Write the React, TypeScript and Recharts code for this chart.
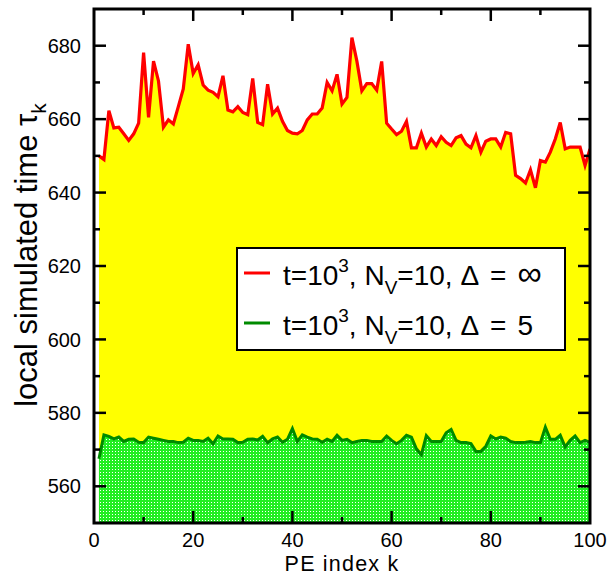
import React from 'react';
import { ComposedChart, Area, XAxis, YAxis, Legend, Label, ReferenceArea } from 'recharts';

// PE index k = 1..100
const peIndex: number[] = Array.from({ length: 100 }, (_, i) => i + 1);

// t=10^3, N_V=10, Delta=infinity  (red)
const tauInf: number[] = [
  650.0, 649.0, 662.3, 657.6, 657.8, 656.0, 654.2, 656.0, 658.9, 678.1,
  660.5, 675.8, 670.4, 657.8, 659.8, 658.7, 663.4, 668.2, 680.4, 672.4,
  674.8, 669.3, 667.9, 667.3, 666.1, 671.8, 662.5, 662.0, 663.4, 661.8,
  661.2, 671.1, 659.1, 658.5, 669.5, 661.4, 663.0, 659.4, 656.9, 656.2,
  656.0, 656.9, 659.8, 661.4, 661.4, 663.0, 670.0, 667.7, 672.2, 664.1,
  665.9, 682.2, 675.8, 667.7, 669.7, 669.7, 667.9, 675.7, 658.9, 657.3,
  655.8, 656.7, 659.4, 652.2, 652.2, 656.2, 652.4, 654.6, 652.8, 655.2,
  653.7, 652.8, 654.9, 655.5, 653.2, 652.2, 655.5, 651.0, 654.0, 654.6,
  654.6, 652.4, 656.4, 656.0, 644.7, 643.8, 642.6, 646.2, 641.3, 648.7,
  648.3, 651.0, 654.6, 659.1, 651.9, 652.4, 652.4, 652.4, 647.4, 651.9,
];

// t=10^3, N_V=10, Delta=5  (green)
const tauDelta5: number[] = [
  567.5, 574.0, 573.6, 572.9, 573.4, 572.2, 572.8, 572.9, 572.0, 571.9,
  573.4, 573.1, 572.8, 572.5, 572.2, 572.2, 571.9, 572.0, 573.1, 572.5,
  572.5, 572.2, 573.1, 571.6, 573.7, 572.9, 572.9, 572.8, 571.9, 572.0,
  572.8, 572.9, 572.6, 573.6, 571.9, 572.9, 573.4, 572.0, 572.8, 575.7,
  572.2, 574.0, 573.4, 572.9, 572.8, 572.0, 572.8, 572.2, 573.9, 572.5,
  572.8, 571.9, 572.2, 572.5, 572.5, 572.2, 572.2, 572.2, 573.7, 572.5,
  571.6, 572.5, 573.9, 573.4, 570.2, 568.6, 573.8, 572.2, 572.2, 572.2,
  574.6, 575.5, 572.5, 571.9, 571.9, 571.6, 569.5, 569.5, 570.9, 573.7,
  572.9, 573.4, 573.1, 572.2, 571.9, 571.9, 572.0, 572.2, 571.9, 571.9,
  576.1, 572.8, 572.8, 573.9, 570.7, 572.5, 573.7, 571.9, 572.5, 572.0,
];

const xTicks: number[] = [0, 10, 20, 30, 40, 50, 60, 70, 80, 90, 100];
const xMajor: number[] = [0, 20, 40, 60, 80, 100];
const yTicks: number[] = [560, 570, 580, 590, 600, 610, 620, 630, 640, 650, 660, 670, 680];
const yMajor: number[] = [560, 580, 600, 620, 640, 660, 680];
const xDomain: [number, number] = [0, 100];
const yDomain: [number, number] = [550, 690];

const legendRows = [
  { delta: '\u221E', color: '#ff0000', big: true },
  { delta: '5', color: '#008a00', big: false },
];

const data = peIndex.map((k, i) => ({ k, inf: tauInf[i], d5: tauDelta5[i] }));

const FONT = '"Liberation Sans", Arial, Helvetica, sans-serif';
const W = 614;
const H = 575;
const MARGIN = { top: 9, right: 24, bottom: 51, left: 93 };
const PLOT_TOP = MARGIN.top;
const PLOT_RIGHT = W - MARGIN.right;
const MAJOR = 12;
const MINOR = 6;
const TW = 2.5;
const FRAME = 3;
const X_TICK_MARGIN = 10;
const Y_TICK_MARGIN = 13;

const BottomTick = (props: any) => {
  const { x, y, payload } = props;
  const v = payload.value;
  const major = xMajor.includes(v);
  const ay = y - X_TICK_MARGIN;
  const len = major ? MAJOR : MINOR;
  const inner = v > xDomain[0] && v < xDomain[1];
  return (
    <g>
      {inner && <line x1={x} x2={x} y1={ay} y2={ay - len} stroke="#000" strokeWidth={TW} />}
      {inner && <line x1={x} x2={x} y1={PLOT_TOP} y2={PLOT_TOP + len} stroke="#000" strokeWidth={TW} />}
      {major && (
        <text x={x} y={y} dy={13.5} textAnchor="middle" fontSize={20} fontFamily={FONT} fill="#000">
          {v}
        </text>
      )}
    </g>
  );
};

const LeftTick = (props: any) => {
  const { x, y, payload } = props;
  const v = payload.value;
  const major = yMajor.includes(v);
  const ax = x + Y_TICK_MARGIN;
  const len = major ? MAJOR : MINOR;
  return (
    <g>
      <line x1={ax} x2={ax + len} y1={y} y2={y} stroke="#000" strokeWidth={TW} />
      <line x1={PLOT_RIGHT} x2={PLOT_RIGHT - len} y1={y} y2={y} stroke="#000" strokeWidth={TW} />
      {major && (
        <text x={x} y={y} dy="0.36em" textAnchor="end" fontSize={20} fontFamily={FONT} fill="#000">
          {v}
        </text>
      )}
    </g>
  );
};

const YTitle = (props: any) => {
  const vb = props.viewBox || { x: 93, y: 9, width: 1, height: 514 };
  const cx = vb.x + vb.width - 57;
  const cy = vb.y + vb.height / 2 - 11;
  return (
    <text
      x={cx}
      y={cy}
      transform={`rotate(-90 ${cx} ${cy})`}
      textAnchor="middle"
      fontSize={31}
      fontFamily={FONT}
      fill="#000"
    >
      local simulated time {'\u03C4'}
      <tspan fontSize={21} dy={9}>k</tspan>
    </text>
  );
};

const XTitle = (props: any) => {
  const vb = props.viewBox || { x: 94, y: 523, width: 496, height: 1 };
  return (
    <text
      x={vb.x + vb.width / 2}
      y={vb.y + 48}
      textAnchor="middle"
      fontSize={21.5}
      letterSpacing={1.2}
      fontFamily={FONT}
      fill="#000"
    >
      PE index k
    </text>
  );
};

const LegendBox = () => (
  <svg width={330} height={104} style={{ display: 'block' }}>
    <rect x={1} y={1} width={328} height={102} fill="#fff" stroke="#000" strokeWidth={2} />
    {legendRows.map((r, i) => {
      const base = 38 + i * 50;
      return (
        <g key={i}>
          <line x1={8} x2={34} y1={base - 12} y2={base - 12} stroke={r.color} strokeWidth={3} />
          <text x={47} y={base} fontSize={28} fontFamily={FONT} fill="#000">
            t=10
            <tspan fontSize={19} dy={-13}>3</tspan>
            <tspan dy={13}>, N</tspan>
            <tspan fontSize={19} dy={9}>V</tspan>
            <tspan dy={-9}>=10, {'\u0394'}</tspan>
            <tspan dx={11}>=</tspan>
            <tspan dx={11} fontSize={r.big ? 34 : 28}>{r.delta}</tspan>
          </text>
        </g>
      );
    })}
  </svg>
);

export default function App() {
  return (
    <div style={{ position: 'absolute', left: 0, top: 0, width: W, height: H, background: '#fff' }}>
      <ComposedChart width={W} height={H} data={data} margin={MARGIN}>
        <defs>
          <pattern id="greenDots" width={3} height={3} patternUnits="userSpaceOnUse">
            <rect x={0} y={0} width={3} height={3} fill="#22ee22" />
            <rect x={1} y={1} width={1} height={1} fill="#ffffff" />
          </pattern>
        </defs>
        <Area
          xAxisId="b"
          yAxisId="l"
          type="linear"
          dataKey="inf"
          stroke="#ff0000"
          strokeWidth={3.2}
          fill="#ffff00"
          fillOpacity={1}
          dot={false}
          activeDot={false}
          isAnimationActive={false}
        />
        <Area
          xAxisId="b"
          yAxisId="l"
          type="linear"
          dataKey="d5"
          stroke="#008a00"
          strokeWidth={3}
          fill="url(#greenDots)"
          fillOpacity={1}
          dot={false}
          activeDot={false}
          isAnimationActive={false}
        />
        <ReferenceArea
          xAxisId="b"
          yAxisId="l"
          x1={xDomain[0]}
          x2={xDomain[1]}
          y1={yDomain[0]}
          y2={yDomain[1]}
          fill="none"
          fillOpacity={0}
          stroke="#000"
          strokeWidth={FRAME}
          ifOverflow="visible"
        />
        <XAxis
          xAxisId="b"
          dataKey="k"
          type="number"
          domain={xDomain}
          allowDataOverflow
          ticks={xTicks}
          interval={0}
          height={1}
          tickSize={0}
          tickMargin={X_TICK_MARGIN}
          tickLine={false}
          axisLine={false}
          tick={<BottomTick />}
        >
          <Label content={<XTitle />} />
        </XAxis>
        <YAxis
          yAxisId="l"
          type="number"
          domain={yDomain}
          allowDataOverflow
          ticks={yTicks}
          interval={0}
          width={1}
          tickSize={0}
          tickMargin={Y_TICK_MARGIN}
          tickLine={false}
          axisLine={false}
          tick={<LeftTick />}
        >
          <Label content={<YTitle />} />
        </YAxis>
        <Legend
          layout="vertical"
          align="center"
          verticalAlign="middle"
          content={<LegendBox />}
          wrapperStyle={{ position: 'absolute', left: 236, top: 247, width: 330, height: 104 }}
        />
      </ComposedChart>
    </div>
  );
}
